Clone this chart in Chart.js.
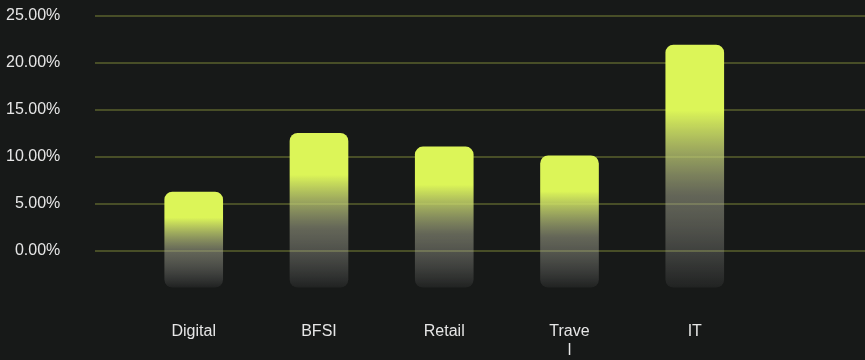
<!DOCTYPE html>
<html>
<head>
<meta charset="utf-8">
<script src="https://cdn.jsdelivr.net/npm/chart.js@4/dist/chart.umd.min.js"></script>
<style>
  html, body { margin: 0; padding: 0; background: #171918; }
  canvas { display: block; }
</style>
</head>
<body>
<canvas id="c" width="865" height="360"></canvas>
<script>
const categories = ['Digital', 'BFSI', 'Retail', 'Travel', 'IT'];
const tickLabels = ['Digital', 'BFSI', 'Retail', ['Trave', 'l'], 'IT'];
const growthValues = [6.25, 12.5, 11.05, 10.1, 21.9];
const yTickValues = [0, 5, 10, 15, 20, 25];
const barBase = -3.9;

const LIME = 'rgba(220,245,88,1)';

function barGradient(c) {
  const chart = c.chart;
  const y = chart.scales && chart.scales.y;
  if (!chart.chartArea || !y || c.dataIndex === undefined) return LIME;
  const top = y.getPixelForValue(growthValues[c.dataIndex]);
  const bottom = y.getPixelForValue(barBase);
  const g = chart.ctx.createLinearGradient(0, top, 0, bottom);
  g.addColorStop(0, LIME);
  g.addColorStop(0.27, LIME);
  g.addColorStop(0.62, 'rgba(163,165,140,0.55)');
  g.addColorStop(1, 'rgba(200,200,200,0.06)');
  return g;
}

new Chart(document.getElementById('c'), {
  type: 'bar',
  data: {
    datasets: [{
      label: 'Growth',
      data: growthValues.map((v, i) => ({ x: i, y: v })),
      base: barBase,
      backgroundColor: barGradient,
      borderWidth: 0,
      borderRadius: 8,
      borderSkipped: false,
      barThickness: 58
    }]
  },
  options: {
    responsive: false,
    animation: false,
    layout: { padding: { left: 6, top: 16, right: 0, bottom: 0 } },
    plugins: { legend: { display: false }, tooltip: { enabled: false } },
    scales: {
      x: {
        type: 'linear',
        offset: false,
        min: -0.786,
        max: 5.359,
        grid: { display: true, offset: false, color: 'rgba(0,0,0,0)', tickColor: 'rgba(0,0,0,0)', drawTicks: true, tickLength: 24 },
        border: { display: false },
        afterBuildTicks: (axis) => { axis.ticks = categories.map((_, i) => ({ value: i })); },
        ticks: {
          padding: 0,
          maxRotation: 0,
          autoSkip: false,
          color: '#e6e6e6',
          font: { family: 'Liberation Sans, Arial, sans-serif', size: 16 },
          callback: (v, i) => tickLabels[i]
        }
      },
      y: {
        min: -5,
        max: 25,
        afterBuildTicks: (axis) => { axis.ticks = yTickValues.map(v => ({ value: v })); },
        grid: { color: '#484e27', lineWidth: 2, drawTicks: true, tickLength: 35, tickColor: 'rgba(0,0,0,0)' },
        border: { display: false },
        ticks: {
          padding: 0,
          color: '#e6e6e6',
          font: { family: 'Liberation Sans, Arial, sans-serif', size: 16 },
          callback: (v) => v.toFixed(2) + '%'
        }
      }
    }
  }
});
</script>
</body>
</html>
